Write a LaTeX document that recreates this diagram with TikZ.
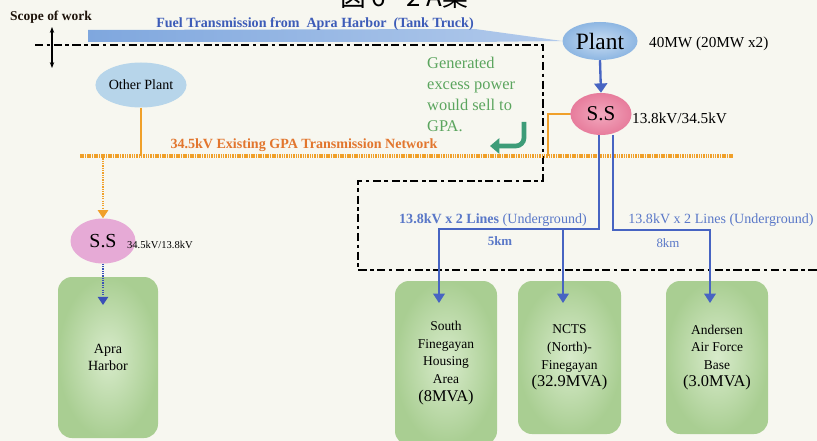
\documentclass[tikz,border=0pt]{standalone}
\usepackage{fontspec}
\setmainfont{Liberation Serif}
\newfontfamily\cjkfont{Noto Sans CJK JP}
\usepackage{tikz}
\usetikzlibrary{arrows.meta,positioning,calc,shapes.geometric}
\definecolor{bgcream}{HTML}{F7F7F0}
\definecolor{plantblue}{HTML}{8DB6E2}
\definecolor{plantlight}{HTML}{C9DDF2}
\definecolor{sspink}{HTML}{E77C9C}
\definecolor{sslight}{HTML}{F2A9BE}
\definecolor{sstwopink}{HTML}{E6AAD6}
\definecolor{otherblue}{HTML}{B7D5EA}
\definecolor{boxgreen}{HTML}{A9CE92}
\definecolor{boxlight}{HTML}{D8EBCB}
\definecolor{lineblue}{HTML}{4764C2}
\definecolor{dkblue}{HTML}{3A50B8}
\definecolor{gridorange}{HTML}{F0A02A}
\definecolor{netlabel}{HTML}{E2762E}
\definecolor{fueltext}{HTML}{3D5CB8}
\definecolor{fuelblue}{HTML}{7FA7DE}
\definecolor{gentext}{HTML}{5BA55E}
\definecolor{hookgreen}{HTML}{3D9C78}
\definecolor{lbblue}{HTML}{5A78C8}

\begin{document}
\begin{tikzpicture}[x=0.3mm,y=-0.3mm,
  blob/.style={ellipse,inner sep=0pt,draw=none},
  loadbox/.style={rounded corners=4.2mm,draw=none,inner color=boxlight,outer color=boxgreen,
                  align=center,font=\fontsize{11.5}{15}\selectfont},
  feeder/.style={draw=lineblue,line width=1pt},
  feedtip/.style={-{Triangle[length=8pt,width=10pt]}},
  gridline/.style={draw=gridorange,line width=1pt},
  workline/.style={line width=2.4pt,dash pattern=on 7pt off 3pt on 3pt off 3pt}]
  \useasboundingbox (0,0) rectangle (817,441);
  \clip (0,0) rectangle (817,441);
  \fill[bgcream] (0,0) rectangle (817,441);
  % cut-off caption at the top
  \node[anchor=base,font=\cjkfont\fontsize{22}{22}\selectfont] (title) at (404,7) {図 6 - 2 A案};
  % scope of work marker
  \node[font=\bfseries\fontsize{11.5}{13}\selectfont,text=black!85!brown] (scopelbl) at (51,17) {Scope of work};
  \coordinate (scopeT) at (52,27);
  \coordinate (scopeB) at (52,68);
  \draw[{Stealth[length=5pt]}-{Stealth[length=5pt]},line width=1pt] (scopeT) -- (scopeB);
  \draw[workline] (35,45) -- (543,45) -- (543,181) -- (358,181) -- (358,270) -- (817,270);
  % load boxes
  \node[loadbox,minimum width=30mm,minimum height=48.3mm,font=\fontsize{12}{14}\selectfont] (apra) at (108,357.5) {Apra\\Harbor};
  \node[loadbox,minimum width=30.6mm,minimum height=49.2mm] (sfh) at (446,363)
       {South\\Finegayan\\Housing\\Area\\{\fontsize{14}{17}\selectfont(8MVA)}};
  \node[loadbox,minimum width=30.9mm,minimum height=45.9mm] (ncts) at (569.5,357.5)
       {NCTS\\(North)-\\Finegayan\\{\fontsize{14}{17}\selectfont(32.9MVA)}};
  \node[loadbox,minimum width=30.6mm,minimum height=45.9mm] (aafb) at (717,357.5)
       {Andersen\\Air Force\\Base\\{\fontsize{14}{17}\selectfont(3.0MVA)}};
  % plants and substations
  \node[blob,minimum width=22.5mm,minimum height=11.4mm,inner color=plantlight,outer color=plantblue,
        font=\fontsize{20}{22}\selectfont] (plant) at (600,41) {Plant};
  \node[anchor=west,font=\fontsize{13}{15}\selectfont] (plantcap) at (645,44) {40MW (20MW x2)};
  \node[blob,minimum width=18.3mm,minimum height=12.6mm,inner color=sslight,outer color=sspink,
        font=\fontsize{18}{20}\selectfont] (ss) at (601,114) {S.S};
  \node[anchor=west,font=\fontsize{13}{15}\selectfont] (sscap) at (628,118) {13.8kV/34.5kV};
  \node[blob,minimum width=25.5mm,minimum height=13.5mm,fill=otherblue,
        font=\fontsize{12}{14}\selectfont] (other) at (141,85) {Other Plant};
  \node[blob,minimum width=19.5mm,minimum height=13.5mm,fill=sstwopink,
        font=\fontsize{17}{19}\selectfont] (ssl) at (103,241) {S.S};
  \node[anchor=west,font=\fontsize{9}{11}\selectfont] (sslcap) at (123,245) {34.5kV/13.8kV};
  % fuel by tank truck
  \shade[left color=fuelblue,right color=fuelblue!60] (88,30) -- (475,29) -- (plant.west) -- (475,42) -- (88,42) -- cycle;
  \node[font=\bfseries\fontsize{12}{14}\selectfont,text=fueltext] (fuellbl) at (315,24)
       {Fuel Transmission from\ \ Apra Harbor\ \ (Tank Truck)};
  \draw[feeder,line width=2pt,-{Triangle[length=8pt,width=11pt]}] (plant.south) -- (ss.north);
  % 34.5kV network
  \coordinate (netW) at (80,156);
  \coordinate (netE) at (733,156);
  \coordinate (tapR) at (548,156);
  \draw[draw=gridorange,line width=2.6pt,dash pattern=on 1.3pt off 0.7pt] (netW) -- (netE);
  \node[font=\bfseries\fontsize{12}{14}\selectfont,text=netlabel] (netlbl) at (304,145)
       {34.5kV Existing GPA Transmission Network};
  \draw[gridline] (ss.west) -| (tapR);
  \draw[gridline] (other.south) -- (other.south |- netW);
  \draw[gridline,densely dotted,-{Triangle[length=7pt,width=9pt]}] (ssl.north |- netW) -- (ssl.north);
  \coordinate (tipApra) at (103,305);
  \draw[draw=dkblue,line width=1pt,densely dotted,-{Triangle[length=7pt,width=9pt]}] (ssl.south) -- (tipApra);
  % excess power note
  \node[anchor=north west,align=left,inner sep=0pt,text=gentext,font=\fontsize{14}{18}\selectfont] (gen) at (427,57)
       {Generated\\excess power\\would sell to\\GPA.};
  \coordinate (hookA) at (524,122);
  \coordinate (hookB) at (490,146);
  \draw[draw=hookgreen,line width=4pt,rounded corners=7pt,-{Triangle[length=8pt,width=13pt]}] (hookA) |- (hookB);
  % 13.8kV underground feeders
  \coordinate (fl) at (599,229);
  \coordinate (fr) at (613,230);
  \coordinate (tipS) at (439,303);
  \coordinate (tipN) at (563,303);
  \coordinate (tipA) at (710,303);
  \node[font=\fontsize{12}{14}\selectfont,text=lbblue] (cabL) at (493,220) {\textbf{13.8kV x 2 Lines} (Underground)};
  \node[font=\bfseries\fontsize{11}{13}\selectfont,text=lbblue] (kmL) at (500,241) {5km};
  \node[font=\fontsize{12}{14}\selectfont,text=lbblue] (cabR) at (721,220) {13.8kV x 2 Lines (Underground)};
  \node[font=\fontsize{11}{13}\selectfont,text=lbblue] (kmR) at (668,243) {8km};
  \draw[feeder,feedtip] (fl |- ss.south) -- (fl) -| (tipS);
  \draw[feeder,feedtip] (tipN |- fl) -- (tipN);
  \draw[feeder,feedtip] (fr |- ss.south) -- (fr) -| (tipA);
\end{tikzpicture}
\end{document}
